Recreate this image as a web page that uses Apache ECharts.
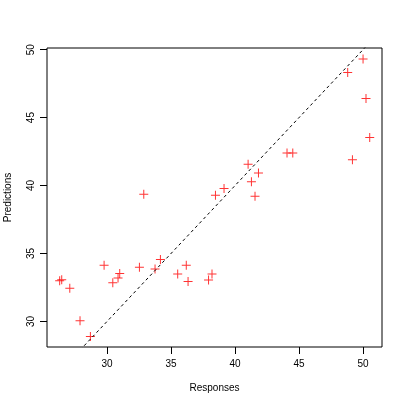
<!DOCTYPE html>
<html>
<head>
<meta charset="utf-8">
<script src="https://cdn.jsdelivr.net/npm/echarts@6/dist/echarts.min.js"></script>
<style>
  html, body { margin: 0; padding: 0; background: #fff; }
  #chart { width: 407px; height: 407px; }
</style>
</head>
<body>
<div id="chart"></div>
<script>
// responses (x) and predictions (y)
const responses = [26.30, 26.46, 27.09, 27.89, 28.70, 29.77, 30.45, 30.86, 30.99, 32.53,
  33.75, 34.17, 35.52, 36.19, 36.33, 37.93, 38.20, 32.87, 38.47, 39.14,
  41.02, 41.83, 41.28, 41.56, 44.06, 44.51, 49.17, 50.00, 48.80, 50.23, 50.52];
const predictions = [32.99, 33.06, 32.45, 30.05, 28.90, 34.14, 32.84, 33.19, 33.52, 33.99,
  33.85, 34.55, 33.50, 34.14, 32.94, 33.05, 33.49, 39.35, 39.28, 39.79,
  41.56, 40.92, 40.28, 39.21, 42.39, 42.39, 41.89, 49.31, 48.31, 46.40, 43.54];
const tickValues = [30, 35, 40, 45, 50];
const xRange = [25.31, 51.48];
const yRange = [28.12, 50.12];
// y = x reference line ends
const refLine = [25, 52];

const points = responses.map((r, i) => [r, predictions[i]]);
const diagonal = refLine.map(v => [v, v]);

const font = "Liberation Sans, Arial, sans-serif";
const plus = "path://M4,0h1v4h4v1h-4v4h-1v-4h-4v-1h4z";

const axisCommon = {
  type: "value",
  axisLine: { show: false },
  splitLine: { show: false },
  axisTick: {
    show: true,
    length: 7,
    customValues: tickValues,
    lineStyle: { color: "#000", width: 1 }
  },
  axisLabel: {
    customValues: tickValues,
    color: "#000",
    fontSize: 10,
    fontFamily: font
  },
  nameLocation: "middle",
  nameTextStyle: { color: "#000", fontSize: 10, fontFamily: font }
};

const option = {
  animation: false,
  backgroundColor: "#fff",
  grid: {
    left: 47,
    right: 25,
    top: 48,
    bottom: 60,
    containLabel: false,
    outerBoundsMode: "none",
    show: true,
    borderColor: "#000",
    borderWidth: 1,
    backgroundColor: "transparent"
  },
  xAxis: Object.assign({}, axisCommon, {
    min: xRange[0],
    max: xRange[1],
    name: "Responses",
    nameGap: 36,
    axisLabel: Object.assign({}, axisCommon.axisLabel, { margin: 12 })
  }),
  yAxis: Object.assign({}, axisCommon, {
    min: yRange[0],
    max: yRange[1],
    name: "Predictions",
    nameGap: 34,
    axisLabel: Object.assign({}, axisCommon.axisLabel, { margin: 11, rotate: 90 })
  }),
  series: [
    {
      type: "line",
      data: diagonal,
      showSymbol: false,
      silent: true,
      clip: true,
      lineStyle: { color: "#000", width: 1, type: [3, 3] }
    },
    {
      type: "scatter",
      data: points,
      symbol: plus,
      symbolSize: 9,
      itemStyle: { color: "#FF0000" }
    }
  ]
};

const chart = echarts.init(document.getElementById("chart"));
chart.setOption(option);
</script>
</body>
</html>
